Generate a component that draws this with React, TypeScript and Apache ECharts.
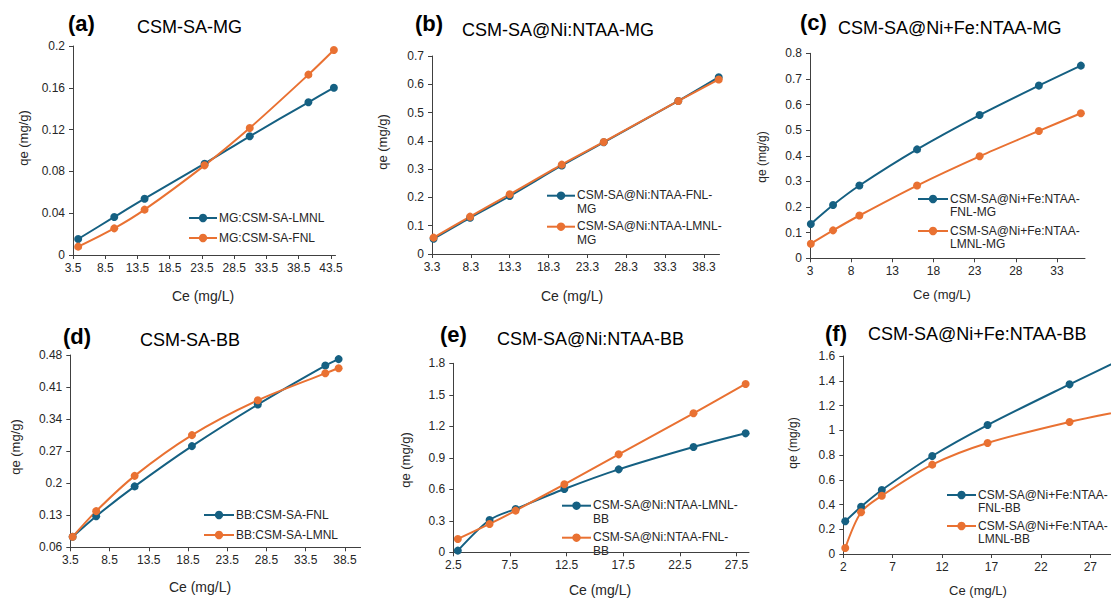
import React, { useEffect, useRef } from "react";
import * as echarts from "echarts";

const BLUE = "#156082";
const ORANGE = "#E97132";
const FONT = '"Liberation Sans", Arial, sans-serif';

// ---------- data ----------
// (a) CSM-SA-MG
const aCe = [4.3, 9.9, 14.6, 23.9, 30.9, 40.0, 43.95];
const aLMNL = [0.0153, 0.0364, 0.0539, 0.0874, 0.1136, 0.1461, 0.1601];
const aFNL = [0.008, 0.0255, 0.0434, 0.0858, 0.1215, 0.1726, 0.1962];
const aXTicks = [3.5, 8.5, 13.5, 18.5, 23.5, 28.5, 33.5, 38.5, 43.5];
const aYTicks = [0, 0.04, 0.08, 0.12, 0.16, 0.2];

// (b) CSM-SA@Ni:NTAA-MG
const bCe = [3.5, 8.2, 13.3, 20.0, 25.4, 35.0, 40.2];
const bFNL = [0.054, 0.128, 0.205, 0.313, 0.395, 0.541, 0.625];
const bLMNL = [0.058, 0.132, 0.211, 0.316, 0.396, 0.541, 0.617];
const bXTicks = [3.3, 8.3, 13.3, 18.3, 23.3, 28.3, 33.3, 38.3];
const bYTicks = [0, 0.1, 0.2, 0.3, 0.4, 0.5, 0.6, 0.7];

// (c) CSM-SA@Ni+Fe:NTAA-MG
const cCe = [3.1, 5.8, 9.0, 16.0, 23.6, 30.8, 35.9];
const cFNL = [0.134, 0.208, 0.284, 0.425, 0.559, 0.674, 0.752];
const cLMNL = [0.057, 0.109, 0.167, 0.284, 0.398, 0.497, 0.566];
const cXTicks = [3, 8, 13, 18, 23, 28, 33];
const cYTicks = [0, 0.1, 0.2, 0.3, 0.4, 0.5, 0.6, 0.7, 0.8];

// (d) CSM-SA-BB
const dCe = [3.8, 6.8, 11.7, 19.0, 27.4, 36.0, 37.7];
const dFNL = [0.083, 0.128, 0.193, 0.281, 0.372, 0.457, 0.471];
const dLMNL = [0.083, 0.139, 0.216, 0.305, 0.381, 0.44, 0.451];
const dXTicks = [3.5, 8.5, 13.5, 18.5, 23.5, 28.5, 33.5, 38.5];
const dYTicks = [0.06, 0.13, 0.2, 0.27, 0.34, 0.41, 0.48];

// (e) CSM-SA@Ni:NTAA-BB
const eCe = [2.9, 5.7, 8.0, 12.3, 17.1, 23.7, 28.3];
const eLMNL = [0.016, 0.308, 0.413, 0.603, 0.79, 1.003, 1.133];
const eFNL = [0.127, 0.27, 0.397, 0.648, 0.933, 1.324, 1.603];
const eXTicks = [2.5, 7.5, 12.5, 17.5, 22.5, 27.5];
const eYTicks = [0, 0.3, 0.6, 0.9, 1.2, 1.5, 1.8];

// (f) CSM-SA@Ni+Fe:NTAA-BB
const fCe = [2.2, 3.8, 5.9, 11.0, 16.6, 24.9, 30.6];
const fFNL = [0.264, 0.382, 0.517, 0.792, 1.042, 1.371, 1.59];
const fLMNL = [0.048, 0.337, 0.471, 0.722, 0.897, 1.067, 1.16];
const fXTicks = [2, 7, 12, 17, 22, 27];
const fYTicks = [0, 0.2, 0.4, 0.6, 0.8, 1, 1.2, 1.4, 1.6];

type SeriesDef = { name: string; legend: string; color: string; x: number[]; y: number[] };
type Panel = {
  letter: string;
  title: string;
  grid: { left: number; top: number; width: number; height: number };
  xMin: number; xMax: number; xTicks: number[];
  yMin: number; yMax: number; yTicks: number[];
  series: SeriesDef[];
  letterPos: [number, number];
  titlePos: [number, number];
  qePos: [number, number];
  cePos: [number, number];
  nameSize: number;
  legendLineX: number;
  legendTextX: number;
  legendYs: number[];
};

const panels: Panel[] = [
  {
    letter: "(a)", title: "CSM-SA-MG",
    grid: { left: 73, top: 46, width: 262.5, height: 209 },
    xMin: 3.5, xMax: 44.2, xTicks: aXTicks, yMin: 0, yMax: 0.2, yTicks: aYTicks,
    series: [
      { name: "MG:CSM-SA-LMNL", legend: "MG:CSM-SA-LMNL", color: BLUE, x: aCe, y: aLMNL },
      { name: "MG:CSM-SA-FNL", legend: "MG:CSM-SA-FNL", color: ORANGE, x: aCe, y: aFNL },
    ],
    letterPos: [68, 23], titlePos: [137, 27], qePos: [23, 138], cePos: [203, 296], nameSize: 14,
    legendLineX: 189, legendTextX: 218, legendYs: [218, 238],
  },
  {
    letter: "(b)", title: "CSM-SA@Ni:NTAA-MG",
    grid: { left: 432, top: 56, width: 287.5, height: 198 },
    xMin: 3.3, xMax: 40.3, xTicks: bXTicks, yMin: 0, yMax: 0.7, yTicks: bYTicks,
    series: [
      { name: "CSM-SA@Ni:NTAA-FNL-MG", legend: "CSM-SA@Ni:NTAA-FNL-\nMG", color: BLUE, x: bCe, y: bFNL },
      { name: "CSM-SA@Ni:NTAA-LMNL-MG", legend: "CSM-SA@Ni:NTAA-LMNL-\nMG", color: ORANGE, x: bCe, y: bLMNL },
    ],
    letterPos: [415, 23], titlePos: [462, 30], qePos: [382, 142], cePos: [572, 296], nameSize: 14,
    legendLineX: 547, legendTextX: 576, legendYs: [195.7, 226.7],
  },
  {
    letter: "(c)", title: "CSM-SA@Ni+Fe:NTAA-MG",
    grid: { left: 810, top: 53.3, width: 275, height: 205 },
    xMin: 3, xMax: 36.4, xTicks: cXTicks, yMin: 0, yMax: 0.8, yTicks: cYTicks,
    series: [
      { name: "CSM-SA@Ni+Fe:NTAA-FNL-MG", legend: "CSM-SA@Ni+Fe:NTAA-\nFNL-MG", color: BLUE, x: cCe, y: cFNL },
      { name: "CSM-SA@Ni+Fe:NTAA-LMNL-MG", legend: "CSM-SA@Ni+Fe:NTAA-\nLMNL-MG", color: ORANGE, x: cCe, y: cLMNL },
    ],
    letterPos: [800, 22], titlePos: [838, 28], qePos: [762, 157], cePos: [942, 294], nameSize: 13,
    legendLineX: 918, legendTextX: 949, legendYs: [199, 231],
  },
  {
    letter: "(d)", title: "CSM-SA-BB",
    grid: { left: 70.3, top: 355, width: 290.3, height: 192.3 },
    xMin: 3.5, xMax: 40.5, xTicks: dXTicks, yMin: 0.06, yMax: 0.48, yTicks: dYTicks,
    series: [
      { name: "BB:CSM-SA-FNL", legend: "BB:CSM-SA-FNL", color: BLUE, x: dCe, y: dFNL },
      { name: "BB:CSM-SA-LMNL", legend: "BB:CSM-SA-LMNL", color: ORANGE, x: dCe, y: dLMNL },
    ],
    letterPos: [63, 336], titlePos: [140, 340], qePos: [15, 447], cePos: [200, 587], nameSize: 14,
    legendLineX: 204, legendTextX: 235, legendYs: [515, 535],
  },
  {
    letter: "(e)", title: "CSM-SA@Ni:NTAA-BB",
    grid: { left: 453.3, top: 363.3, width: 295.7, height: 189 },
    xMin: 2.5, xMax: 28.6, xTicks: eXTicks, yMin: 0, yMax: 1.8, yTicks: eYTicks,
    series: [
      { name: "CSM-SA@Ni:NTAA-LMNL-BB", legend: "CSM-SA@Ni:NTAA-LMNL-\nBB", color: BLUE, x: eCe, y: eLMNL },
      { name: "CSM-SA@Ni:NTAA-FNL-BB", legend: "CSM-SA@Ni:NTAA-FNL-\nBB", color: ORANGE, x: eCe, y: eFNL },
    ],
    letterPos: [440, 334], titlePos: [497, 339], qePos: [405, 460], cePos: [600, 590], nameSize: 14,
    legendLineX: 562, legendTextX: 592, legendYs: [505.7, 537.7],
  },
  {
    letter: "(f)", title: "CSM-SA@Ni+Fe:NTAA-BB",
    grid: { left: 843.3, top: 356, width: 296.4, height: 198 },
    xMin: 2, xMax: 32, xTicks: fXTicks, yMin: 0, yMax: 1.6, yTicks: fYTicks,
    series: [
      { name: "CSM-SA@Ni+Fe:NTAA-FNL-BB", legend: "CSM-SA@Ni+Fe:NTAA-\nFNL-BB", color: BLUE, x: fCe, y: fFNL },
      { name: "CSM-SA@Ni+Fe:NTAA-LMNL-BB", legend: "CSM-SA@Ni+Fe:NTAA-\nLMNL-BB", color: ORANGE, x: fCe, y: fLMNL },
    ],
    letterPos: [825, 333], titlePos: [868, 334], qePos: [793, 443], cePos: [978, 590], nameSize: 13,
    legendLineX: 947, legendTextX: 977, legendYs: [495, 526],
  },
];

const fmt = (v: number) => String(Math.round(v * 10000) / 10000);

function buildOption() {
  const grid: any[] = [];
  const xAxis: any[] = [];
  const yAxis: any[] = [];
  const series: any[] = [];
  const graphic: any[] = [];
  const axisLine = { show: true, lineStyle: { color: "#404040", width: 1 } };
  const axisTickStyle = { lineStyle: { color: "#404040", width: 1 } };
  const labelStyle = { color: "#262626", fontSize: 12, fontFamily: FONT };

  panels.forEach((p, i) => {
    grid.push({ ...p.grid, containLabel: false, outerBoundsMode: "none" });
    xAxis.push({
      type: "value", gridIndex: i, min: p.xMin, max: p.xMax,
      axisLine, splitLine: { show: false },
      axisTick: { show: true, length: 4, ...axisTickStyle, customValues: p.xTicks },
      axisLabel: { ...labelStyle, margin: 7, formatter: fmt, customValues: p.xTicks, hideOverlap: false },
    });
    yAxis.push({
      type: "value", gridIndex: i, min: p.yMin, max: p.yMax,
      axisLine, splitLine: { show: false },
      axisTick: { show: true, length: 4, ...axisTickStyle, customValues: p.yTicks },
      axisLabel: { ...labelStyle, margin: 8, formatter: fmt, customValues: p.yTicks },
    });
    p.series.forEach((s) => {
      series.push({
        type: "line", name: s.name, xAxisIndex: i, yAxisIndex: i,
        data: s.x.map((x, k) => [x, s.y[k]]),
        smooth: 0.3, symbol: "circle", symbolSize: 8, showSymbol: true,
        lineStyle: { color: s.color, width: 2 },
        itemStyle: { color: s.color },
        emphasis: { disabled: true },
      });
    });

    // panel letter + title
    graphic.push({
      type: "text", x: p.letterPos[0], y: p.letterPos[1],
      style: { text: p.letter, fontSize: 22, fontWeight: "bold", fontFamily: FONT, fill: "#000", verticalAlign: "middle", align: "left" },
    });
    graphic.push({
      type: "text", x: p.titlePos[0], y: p.titlePos[1],
      style: { text: p.title, fontSize: 18, fontFamily: FONT, fill: "#000", verticalAlign: "middle", align: "left" },
    });
    // axis names
    graphic.push({
      type: "text", x: p.qePos[0], y: p.qePos[1], rotation: Math.PI / 2,
      style: { text: "qe (mg/g)", fontSize: p.nameSize - 1, fontFamily: FONT, fill: "#262626", verticalAlign: "middle", align: "center" },
    });
    graphic.push({
      type: "text", x: p.cePos[0], y: p.cePos[1],
      style: { text: "Ce (mg/L)", fontSize: p.nameSize, fontFamily: FONT, fill: "#262626", verticalAlign: "middle", align: "center" },
    });
    // legend
    p.series.forEach((s, k) => {
      const y = p.legendYs[k];
      const x1 = p.legendLineX;
      const x2 = p.legendTextX - 1;
      graphic.push({ type: "line", shape: { x1, y1: y, x2, y2: y }, style: { stroke: s.color, lineWidth: 2 } });
      graphic.push({ type: "circle", shape: { cx: (x1 + x2) / 2, cy: y, r: 4.2 }, style: { fill: s.color } });
      graphic.push({
        type: "text", x: p.legendTextX + 1, y: y - 7,
        style: { text: s.legend, fontSize: 12, fontFamily: FONT, fill: "#262626", verticalAlign: "top", align: "left", lineHeight: 13.5 },
      });
    });
  });

  return {
    animation: false,
    backgroundColor: "#ffffff",
    textStyle: { fontFamily: FONT },
    grid, xAxis, yAxis, series, graphic,
  };
}

export default function App() {
  const ref = useRef<HTMLDivElement>(null);
  useEffect(() => {
    if (!ref.current) return;
    const chart = echarts.init(ref.current, undefined, { renderer: "svg" });
    chart.setOption(buildOption() as any);
    return () => chart.dispose();
  }, []);
  return (
    <div
      ref={ref}
      style={{ position: "fixed", left: 0, top: 0, width: 1111, height: 600, overflow: "hidden", background: "#fff" }}
    />
  );
}
